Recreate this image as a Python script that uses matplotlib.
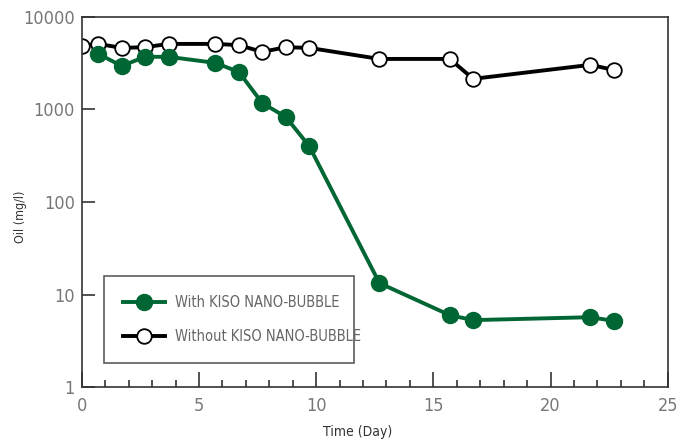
import matplotlib
matplotlib.use("Agg")
import matplotlib.pyplot as plt
from matplotlib.lines import Line2D

plt.rcParams['font.family'] = ['DejaVu Sans']
plt.rcParams['font.stretch'] = 'condensed'

days_without = [0, 0.7, 1.7, 2.7, 3.7, 5.7, 6.7, 7.7, 8.7, 9.7, 12.7, 15.7, 16.7, 21.7, 22.7]
oil_without = [4860, 5100, 4620, 4700, 5100, 5100, 4950, 4180, 4700, 4620, 3510, 3510, 2140, 3030, 2670]

days_with = [0.7, 1.7, 2.7, 3.7, 5.7, 6.7, 7.7, 8.7, 9.7, 12.7, 15.7, 16.7, 21.7, 22.7]
oil_with = [3980, 2950, 3700, 3700, 3180, 2540, 1170, 830, 403, 13.3, 6.0, 5.3, 5.7, 5.2]

label_with = "With KISO NANO-BUBBLE"
label_without = "Without KISO NANO-BUBBLE"
x_label = "Time (Day)"
y_label = "Oil (mg/l)"

green = "#006633"

fig = plt.figure(figsize=(6.82, 4.43), dpi=100)
ax = fig.add_axes([0.12, 0.126, 0.859, 0.836])

ax.plot(days_without, oil_without, color="black", lw=2.8, marker="o", ms=10.5,
        mfc="white", mec="black", mew=1.3, zorder=2)
ax.plot(days_with, oil_with, color=green, lw=2.8, marker="o", ms=11.5,
        mfc=green, mec=green, zorder=3)

ax.set_yscale("log")
ax.set_ylim(1, 10000)
ax.set_xlim(0, 25)
ax.set_yticks([1, 10, 100, 1000, 10000])
ax.set_yticklabels(["1", "10", "100", "1000", "10000"])
ax.yaxis.set_minor_locator(matplotlib.ticker.NullLocator())
ax.set_xticks([0, 5, 10, 15, 20, 25])
ax.set_xticks(range(0, 26), minor=True)
ax.tick_params(axis="both", which="major", direction="in", labelsize=13,
               labelcolor="#777777", color="#333333", width=1.2)
ax.tick_params(axis="x", which="major", length=11, pad=7)
ax.tick_params(axis="x", which="minor", direction="in", length=5, width=1.2, color="#333333")
ax.tick_params(axis="y", which="major", length=9, pad=5)

for s in ax.spines.values():
    s.set_color("#333333")
    s.set_linewidth(1.2)

ax.set_xlabel(x_label, fontsize=10, color="#333333")
ax.set_ylabel(y_label, fontsize=9, color="#333333")
ax.xaxis.set_label_coords(0.47, -0.103)
ax.yaxis.set_label_coords(-0.094, 0.46)

handles = [
    Line2D([], [], color=green, lw=2.8, marker="o", ms=11.5, mfc=green, mec=green),
    Line2D([], [], color="black", lw=2.8, marker="o", ms=10.5, mfc="white", mec="black", mew=1.3),
]
leg = ax.legend(handles, [label_with, label_without], loc="lower left",
                bbox_to_anchor=(0.0376, 0.065, 0.427, 0.243), mode="expand",
                fontsize=10.5, frameon=True, fancybox=False, edgecolor="#333333",
                handlelength=2.9, handletextpad=0.7, borderpad=1.3,
                labelspacing=1.3, borderaxespad=0)
leg.get_frame().set_linewidth(1.2)
for t in leg.get_texts():
    t.set_color("#666666")

fig.savefig("out.png", dpi=100)
